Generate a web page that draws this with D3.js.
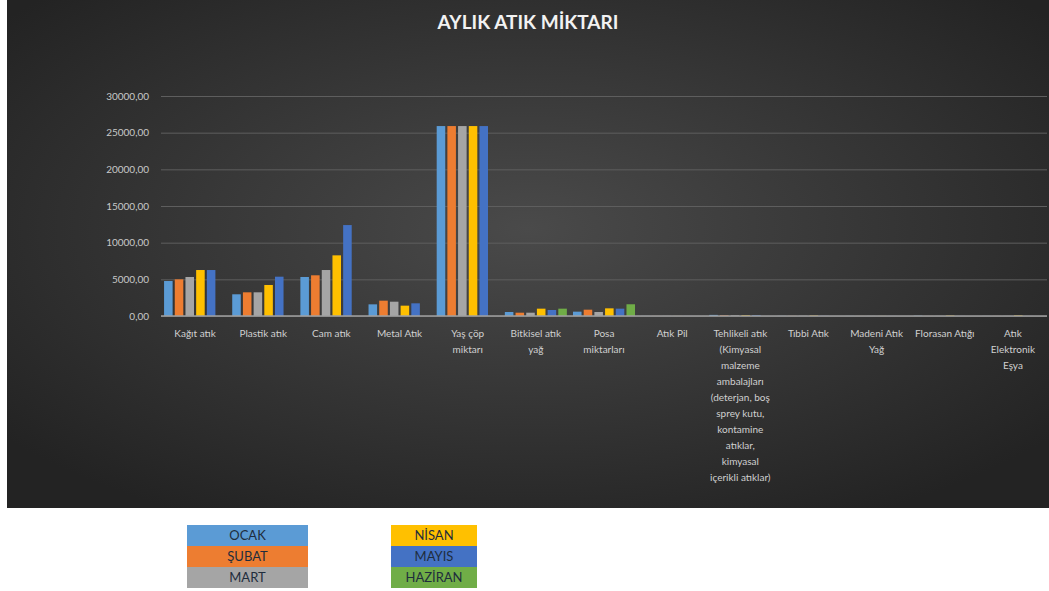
<!DOCTYPE html>
<html>
<head>
<meta charset="utf-8">
<script src="https://cdn.jsdelivr.net/npm/d3@7"></script>
<style>
body { margin: 0; background: #fff; }
svg { display: block; font-family: Lato, "Open Sans", sans-serif; }
</style>
</head>
<body>
<script>
// Categories (line breaks as in the original chart)
var categories = [
    ["Kağıt atık"],
    ["Plastik atık"],
    ["Cam atık"],
    ["Metal Atık"],
    ["Yaş çöp", "miktarı"],
    ["Bitkisel atık", "yağ"],
    ["Posa", "miktarları"],
    ["Atık Pil"],
    ["Tehlikeli atık", "(Kimyasal", "malzeme", "ambalajları", "(deterjan, boş",
     "sprey kutu,", "kontamine", "atıklar,", "kimyasal", "içerikli atıklar)"],
    ["Tıbbi Atık"],
    ["Madeni Atık", "Yağ"],
    ["Florasan Atığı"],
    ["Atık", "Elektronik", "Eşya"]
];

var months = ["OCAK", "ŞUBAT", "MART", "NİSAN", "MAYIS", "HAZİRAN"];
var colors = ["#5b9bd5", "#ed7d31", "#a5a5a5", "#ffc000", "#4472c4", "#70ad47"];

// values per month, one entry per category
var ocak    = [4770, 2960, 5320, 1590, 25900, 545, 590, 10, 150, 20, 10, 40, 10];
var subat   = [5000, 3230, 5550, 2090, 25900, 450, 860, 10, 90, 20, 10, 10, 10];
var mart    = [5320, 3230, 6270, 1950, 25900, 450, 545, 10, 80, 20, 10, 10, 10];
var nisan   = [6270, 4230, 8270, 1410, 25900, 1000, 1045, 10, 100, 60, 10, 60, 80];
var mayis   = [6270, 5360, 12400, 1730, 25900, 820, 1000, 10, 120, 20, 10, 10, 10];
var haziran = [0, 0, 0, 0, 0, 1000, 1600, 0, 0, 0, 0, 0, 0];

var series = [ocak, subat, mart, nisan, mayis, haziran];
var yTicks = [0, 5000, 10000, 15000, 20000, 25000, 30000];

var W = 1049, H = 591;
var svg = d3.select("body").append("svg")
    .attr("width", W)
    .attr("height", H);

var defs = svg.append("defs");
var grad = defs.append("radialGradient")
    .attr("id", "bg")
    .attr("cx", "50%").attr("cy", "45%").attr("r", "65%");
grad.append("stop").attr("offset", "0%").attr("stop-color", "#4a4a4a");
grad.append("stop").attr("offset", "100%").attr("stop-color", "#232323");

svg.append("rect")
    .attr("x", 7).attr("y", 0)
    .attr("width", W - 7).attr("height", 508)
    .attr("fill", "url(#bg)");

svg.append("text")
    .attr("x", 528).attr("y", 29)
    .attr("text-anchor", "middle")
    .attr("fill", "#f2f2f2")
    .attr("font-size", 19)
    .attr("font-weight", "bold")
    .text("AYLIK ATIK MİKTARI");

var plotL = 161, plotR = 1047, plotT = 96, plotB = 316;

var y = d3.scaleLinear().domain([0, 30000]).range([plotB, plotT]);
var x = d3.scaleBand().domain(d3.range(categories.length))
    .range([plotL, plotR]).paddingInner(0.09).paddingOuter(0.045);
var xs = d3.scaleBand().domain(d3.range(months.length))
    .range([0, x.bandwidth()]).paddingInner(0.2);

var fmt = function(v) { return d3.format(".2f")(v).replace(".", ","); };

// grid
var yAxis = d3.axisLeft(y).tickValues(yTicks).tickSize(-(plotR - plotL))
    .tickFormat(fmt);
var gy = svg.append("g")
    .attr("transform", "translate(" + plotL + ",0)")
    .call(yAxis);
gy.select(".domain").remove();
gy.selectAll(".tick line").attr("stroke", "#5e5e5e").attr("stroke-width", 1);
gy.selectAll(".tick text")
    .attr("x", -12)
    .attr("fill", "#c8c8c8")
    .attr("font-size", 10)
    .attr("font-family", "Lato, sans-serif");

// bars
series.forEach(function(vals, si) {
    svg.append("g").selectAll("rect")
        .data(vals)
        .enter()
        .append("rect")
        .attr("x", function(d, i) { return x(i) + xs(si); })
        .attr("y", function(d) { return y(d); })
        .attr("width", xs.bandwidth())
        .attr("height", function(d) { return plotB - y(d); })
        .attr("fill", colors[si]);
});

// baseline
svg.append("line")
    .attr("x1", plotL).attr("x2", plotR)
    .attr("y1", plotB).attr("y2", plotB)
    .attr("stroke", "#a0a0a0").attr("stroke-width", 1.5);

// x labels
var xl = svg.append("g").selectAll("text")
    .data(categories)
    .enter()
    .append("text")
    .attr("x", function(d, i) { return x(i) + x.bandwidth() / 2; })
    .attr("y", 337)
    .attr("text-anchor", "middle")
    .attr("fill", "#d0d0d0")
    .attr("font-size", 10);
xl.selectAll("tspan")
    .data(function(d) { return d; })
    .enter()
    .append("tspan")
    .attr("x", function() {
        return d3.select(this.parentNode).attr("x");
    })
    .attr("dy", function(d, i) { return i ? 16 : 0; })
    .text(function(d) { return d; });

// legend blocks
var legX = [187, 391], legW = [121, 86];
months.forEach(function(m, i) {
    var col = Math.floor(i / 3), row = i % 3;
    var gx = legX[col], gyy = 525 + row * 21;
    svg.append("rect")
        .attr("x", gx).attr("y", gyy)
        .attr("width", legW[col]).attr("height", 21)
        .attr("fill", colors[i]);
    svg.append("text")
        .attr("x", gx + legW[col] / 2).attr("y", gyy + 15)
        .attr("text-anchor", "middle")
        .attr("fill", "#1f2d3d")
        .attr("font-size", 13)
        .text(m);
});
</script>
</body>
</html>
